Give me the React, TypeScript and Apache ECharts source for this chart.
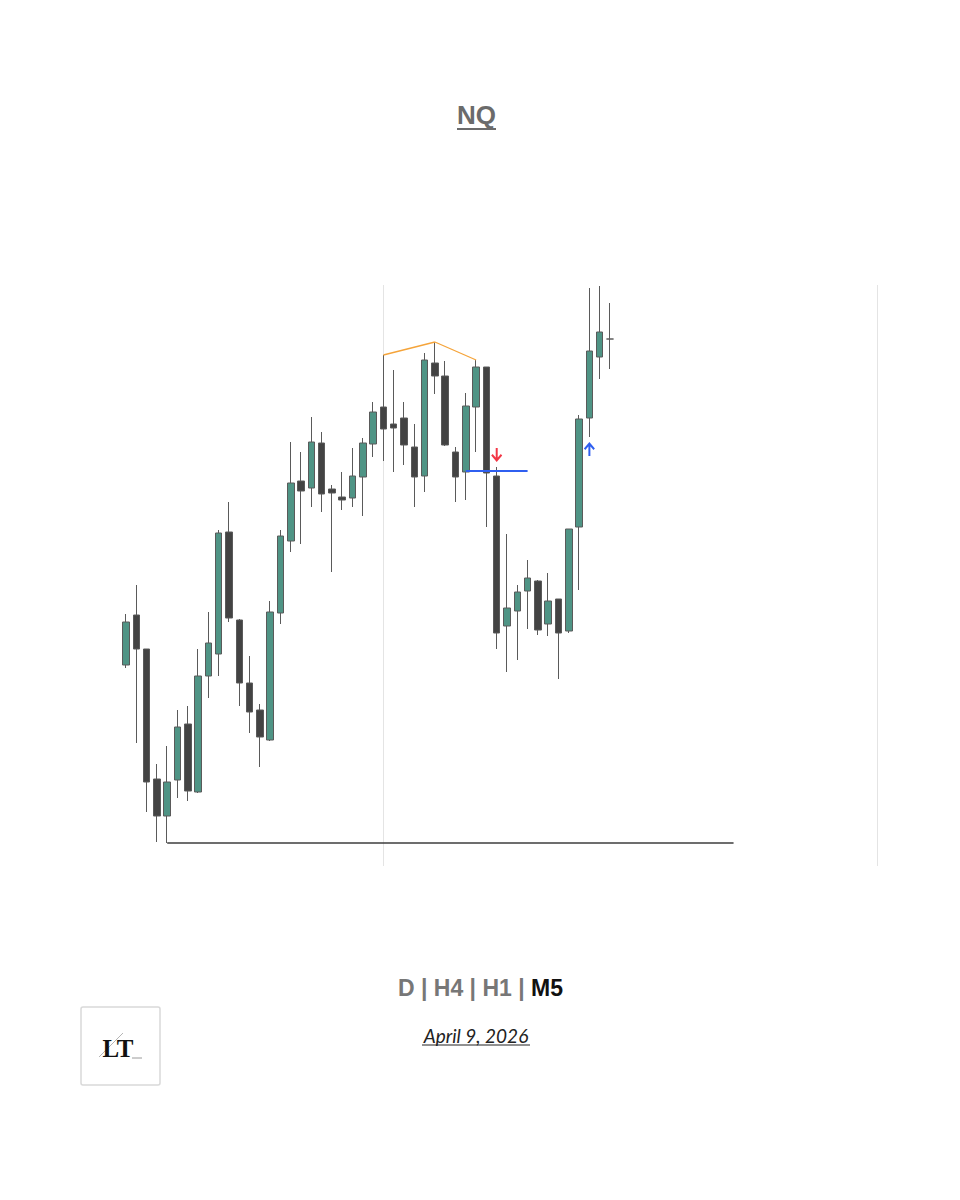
import React, { useEffect, useRef } from "react";
import * as echarts from "echarts";

// 5-minute candles: [open, close, low, high]
const candles: number[][] = [
  [20201, 20244, 20198, 20252],
  [20251, 20217, 20123, 20281],
  [20217, 20084, 20054, 20217],
  [20087, 20050, 20024, 20102],
  [20050, 20084, 20023, 20120],
  [20086, 20139, 20068, 20156],
  [20142, 20075, 20065, 20160],
  [20074, 20190, 20073, 20217],
  [20190, 20223, 20168, 20254],
  [20212, 20333, 20190, 20336],
  [20334, 20248, 20244, 20364],
  [20246, 20183, 20160, 20247],
  [20183, 20154, 20133, 20210],
  [20156, 20129, 20099, 20162],
  [20126, 20254, 20125, 20265],
  [20253, 20330, 20242, 20336],
  [20325, 20383, 20314, 20424],
  [20385, 20375, 20322, 20414],
  [20378, 20424, 20359, 20449],
  [20423, 20372, 20354, 20434],
  [20377, 20373, 20294, 20381],
  [20369, 20366, 20356, 20394],
  [20368, 20390, 20359, 20418],
  [20389, 20423, 20350, 20428],
  [20422, 20454, 20409, 20464],
  [20459, 20437, 20405, 20511],
  [20442, 20438, 20394, 20496],
  [20448, 20421, 20401, 20464],
  [20419, 20389, 20359, 20442],
  [20390, 20506, 20374, 20513],
  [20503, 20490, 20472, 20524],
  [20490, 20421, 20420, 20505],
  [20414, 20389, 20364, 20419],
  [20394, 20460, 20366, 20473],
  [20459, 20499, 20414, 20506],
  [20499, 20393, 20339, 20499],
  [20390, 20233, 20217, 20399],
  [20240, 20258, 20194, 20332],
  [20255, 20274, 20206, 20281],
  [20275, 20288, 20237, 20306],
  [20285, 20236, 20231, 20286],
  [20242, 20265, 20230, 20293],
  [20267, 20233, 20187, 20267],
  [20235, 20337, 20233, 20337],
  [20339, 20447, 20276, 20451],
  [20448, 20515, 20429, 20578],
  [20509, 20534, 20487, 20580],
  [20527, 20527, 20497, 20563],
];

const slotCount = 80;
const categories: string[] = Array.from({ length: slotCount }, (_, i) => String(i));

// session separators (bar index)
const separators = ["25", "73"];
// swing highs joined by the orange line
const swingHighs: [string, number][] = [
  ["25", 20511],
  ["30", 20524],
  ["34", 20506],
];
// level lines
const lowLevel = { from: "4", to: "59", price: 20023 };
const breakLevel = { from: "33", to: "39", price: 20395 };
// arrows
const downArrow: [string, number] = ["36", 20411];
const upArrow: [string, number] = ["45", 20417];

const priceMin = 20000;
const priceMax = 20581;

const timeframes = "D | H4 | H1 | ";
const activeTf = "M5";
const dateLabel = "April 9, 2026";
const titleLabel = "NQ";
const logoLabel = "LT";

const arrowDown =
  "path://M4.1,0 L5.9,0 L5.9,10.5 L4.1,10.5 Z M0,6.4 L1.3,5.1 L5,9.2 L8.7,5.1 L10,6.4 L5,12 Z";
const arrowUp =
  "path://M4.1,12 L5.9,12 L5.9,1.5 L4.1,1.5 Z M0,5.6 L1.3,6.9 L5,2.8 L8.7,6.9 L10,5.6 L5,0 Z";

export default function App() {
  const ref = useRef<HTMLDivElement>(null);

  useEffect(() => {
    if (!ref.current) return;
    const chart = echarts.init(ref.current, undefined, { renderer: "svg" });

    const option: any = {
      animation: false,
      backgroundColor: "#ffffff",
      grid: { left: 120.85, width: 823.8, top: 285, height: 581 },
      xAxis: {
        type: "category",
        data: categories,
        show: false,
        boundaryGap: true,
      },
      yAxis: {
        type: "value",
        min: priceMin,
        max: priceMax,
        show: false,
        splitLine: { show: false },
      },
      series: [
        {
          type: "line",
          data: [],
          z: 1,
          silent: true,
          markLine: {
            silent: true,
            z: 1,
            symbol: "none",
            label: { show: false },
            data: separators.map((s) => ({
              xAxis: s,
              lineStyle: { color: "#e4e4e4", width: 1, type: "solid" },
            })),
          },
        },
        {
          type: "candlestick",
          data: candles,
          barWidth: 7,
          z: 3,
          itemStyle: {
            color: "#4f9485",
            color0: "#434343",
            borderColor: "#5a5a5a",
            borderColor0: "#5a5a5a",
            borderWidth: 1,
          },
          markLine: {
            silent: true,
            symbol: "none",
            label: { show: false },
            data: [
              [
                {
                  coord: [lowLevel.from, lowLevel.price],
                  lineStyle: { color: "#3c3c3c", width: 1.6, type: "solid" },
                },
                { coord: [lowLevel.to, lowLevel.price] },
              ],
              [
                {
                  coord: [breakLevel.from, breakLevel.price],
                  lineStyle: { color: "#2f5ff0", width: 2, type: "solid" },
                },
                { coord: [breakLevel.to, breakLevel.price] },
              ],
              ...swingHighs.slice(0, -1).map((h, i) => [
                {
                  coord: [h[0], h[1]],
                  lineStyle: { color: "#f5a43a", width: 1.3, type: "solid" },
                },
                { coord: [swingHighs[i + 1][0], swingHighs[i + 1][1]] },
              ]),
            ],
          },
          markPoint: {
            silent: true,
            label: { show: false },
            data: [
              {
                coord: downArrow,
                symbol: arrowDown,
                symbolSize: [11, 14],
                itemStyle: { color: "#f23645" },
              },
              {
                coord: upArrow,
                symbol: arrowUp,
                symbolSize: [11, 14],
                itemStyle: { color: "#2f5ff0" },
              },
            ],
          },
        },
      ],
      graphic: [
        {
          type: "text",
          x: 476.5,
          y: 115,
          style: {
            text: titleLabel,
            align: "center",
            verticalAlign: "middle",
            font: 'bold 26px "Liberation Sans", Arial, sans-serif',
            fill: "#6b6b6b",
          },
        },
        {
          type: "line",
          shape: { x1: 457, y1: 129, x2: 496, y2: 129 },
          style: { stroke: "#6b6b6b", lineWidth: 2 },
        },
        {
          type: "text",
          x: 480.5,
          y: 988,
          style: {
            text: "{g|" + timeframes + "}{b|" + activeTf + "}",
            align: "center",
            verticalAlign: "middle",
            rich: {
              g: {
                font: 'bold 23px "Liberation Sans", Arial, sans-serif',
                fill: "#777777",
              },
              b: {
                font: 'bold 23px "Liberation Sans", Arial, sans-serif',
                fill: "#111111",
              },
            },
          },
        },
        {
          type: "text",
          x: 476,
          y: 1035,
          style: {
            text: dateLabel,
            align: "center",
            verticalAlign: "middle",
            font: 'italic 19px Lato, sans-serif',
            fill: "#222222",
          },
        },
        {
          type: "line",
          shape: { x1: 422, y1: 1045, x2: 530, y2: 1045 },
          style: { stroke: "#222222", lineWidth: 1 },
        },
        {
          type: "rect",
          shape: { x: 81, y: 1007, width: 79, height: 78, r: 2 },
          style: { fill: "#ffffff", stroke: "#d9d9d9", lineWidth: 1.5 },
        },
        {
          type: "line",
          shape: { x1: 99, y1: 1057, x2: 123, y2: 1033 },
          style: { stroke: "#b5b5b5", lineWidth: 1 },
        },
        {
          type: "text",
          x: 118,
          y: 1048,
          style: {
            text: logoLabel,
            align: "center",
            verticalAlign: "middle",
            font: 'bold 25px "Liberation Serif", "DejaVu Serif", serif',
            fill: "#111111",
          },
        },
        {
          type: "line",
          shape: { x1: 132, y1: 1058, x2: 142, y2: 1058 },
          style: { stroke: "#9a9a9a", lineWidth: 1 },
        },
      ],
    };

    chart.setOption(option);
    return () => chart.dispose();
  }, []);

  return (
    <div
      ref={ref}
      style={{ position: "absolute", left: 0, top: 0, width: 960, height: 1200, background: "#fff" }}
    />
  );
}
